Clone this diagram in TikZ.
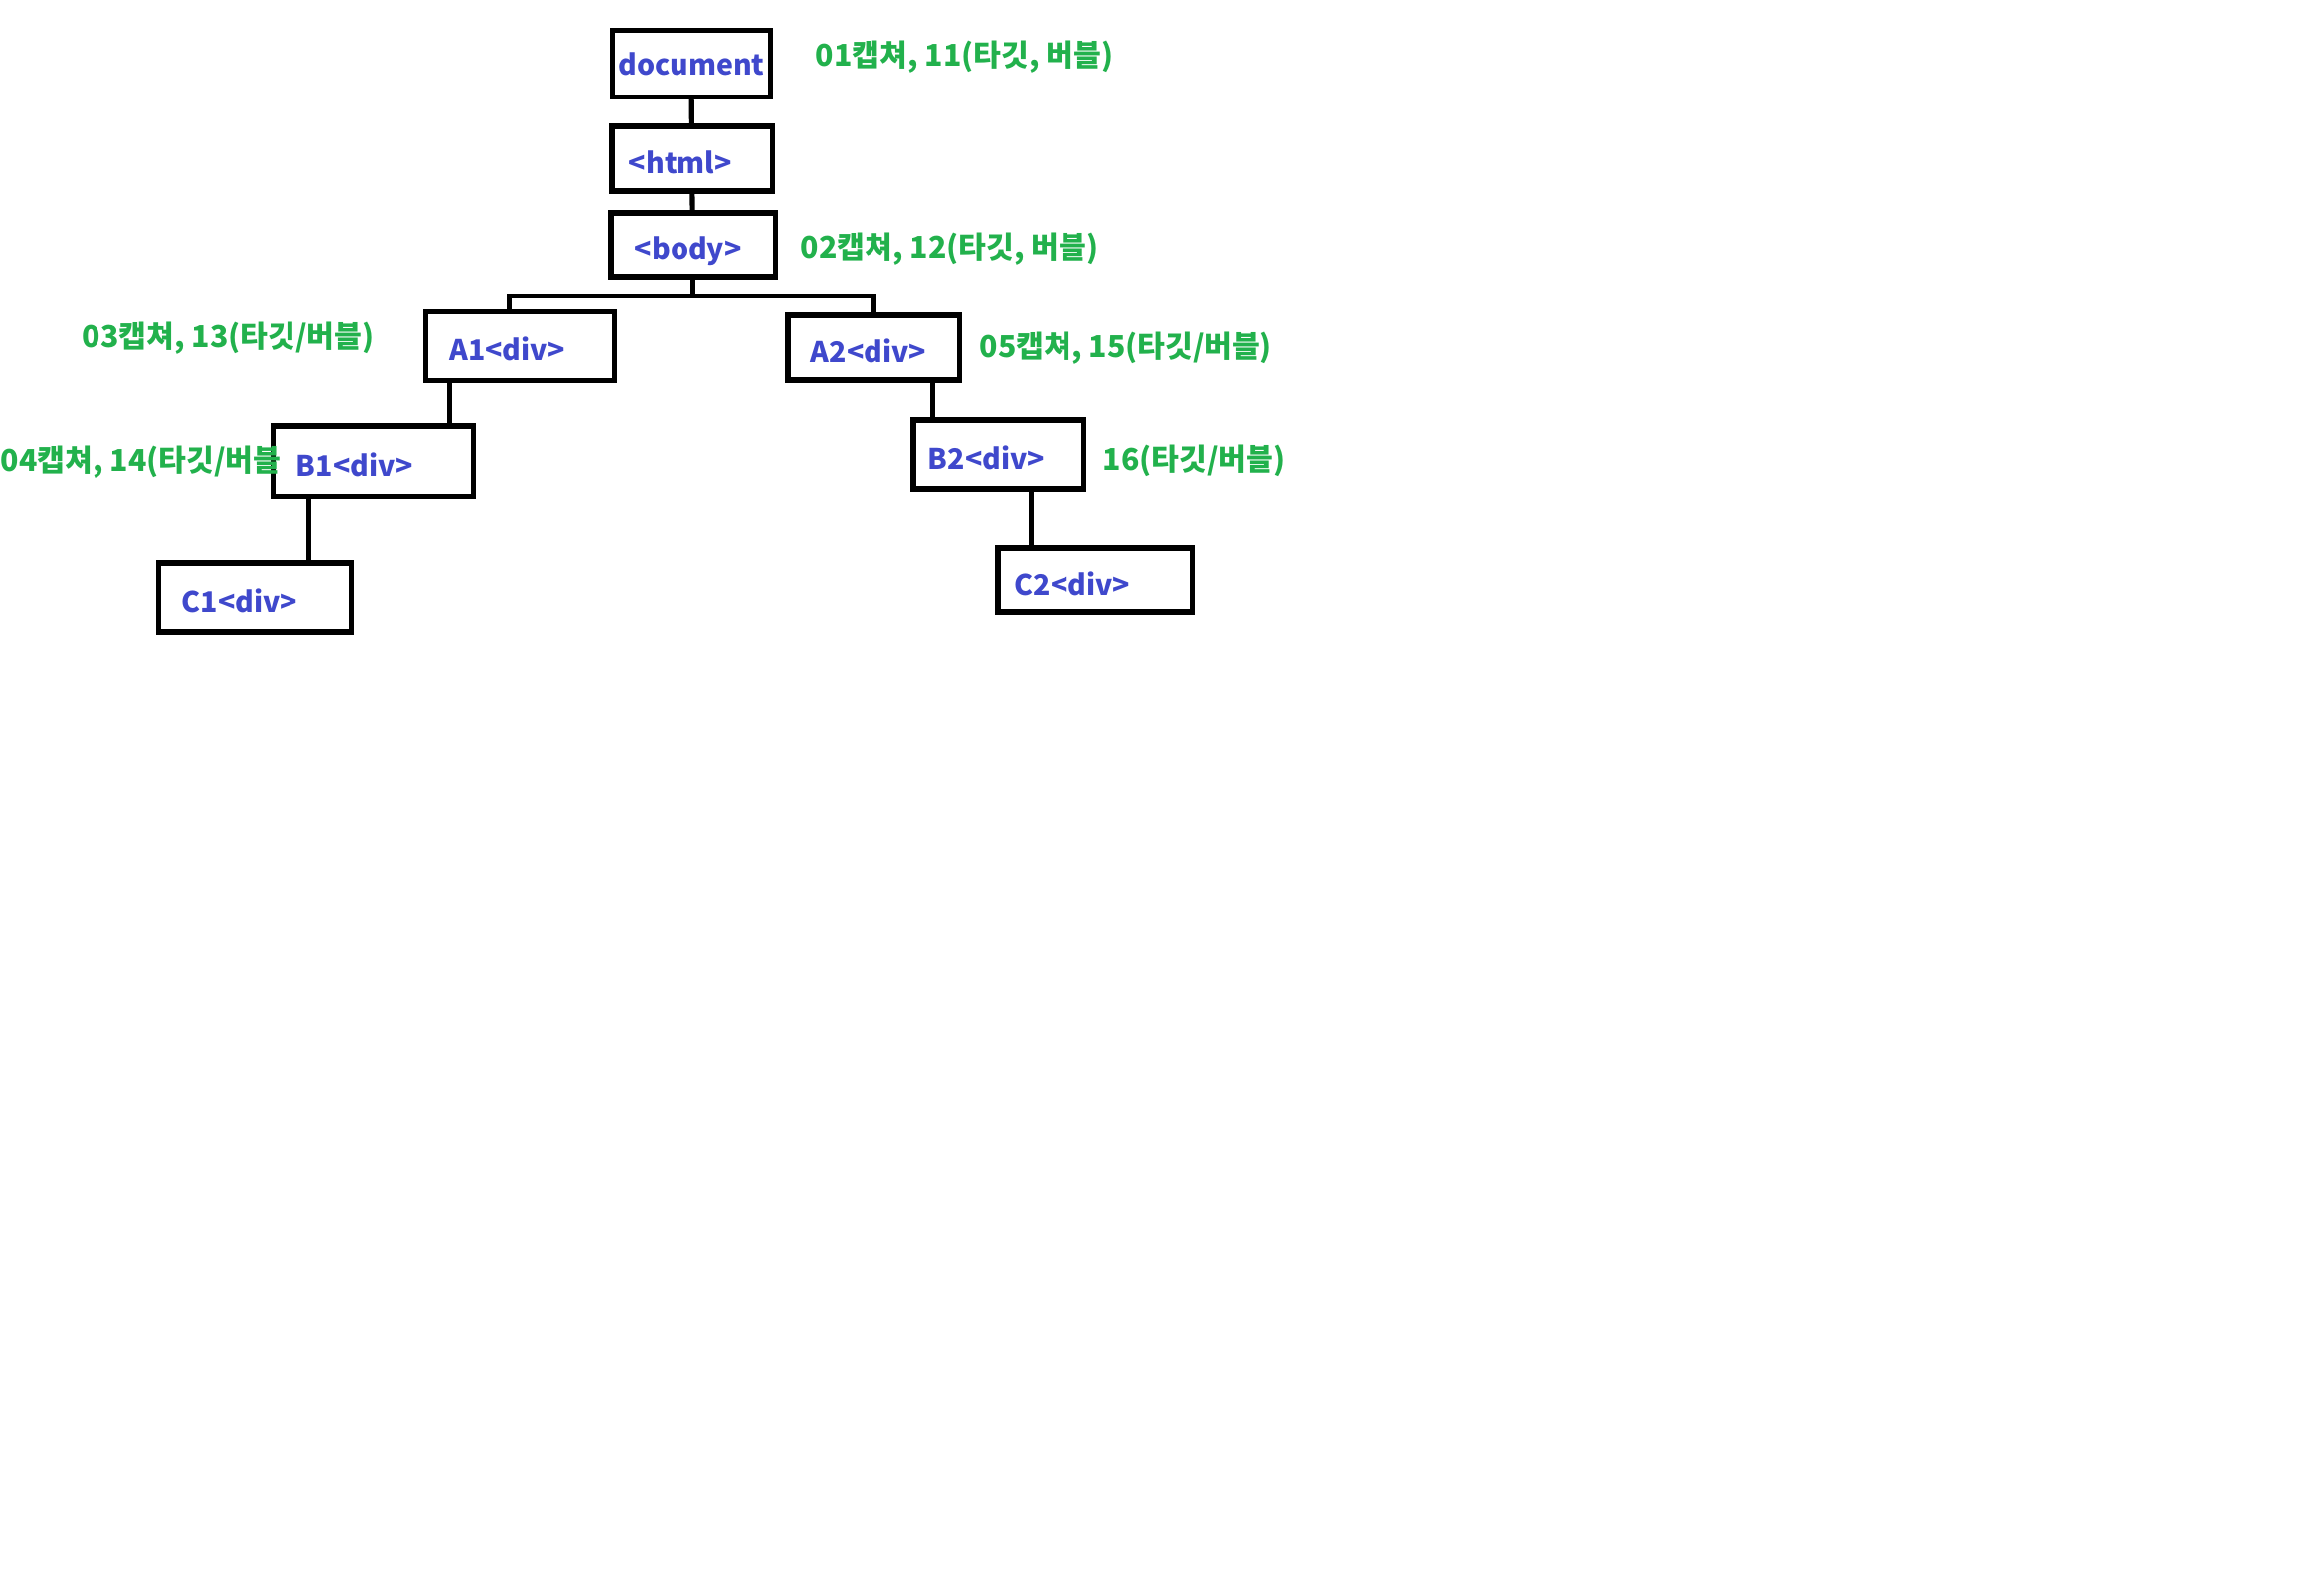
\documentclass[tikz,border=0pt]{standalone}
\usepackage{fontspec}
\setmainfont{Noto Sans CJK KR}
\usetikzlibrary{calc}
\definecolor{boxblue}{RGB}{63,72,204}
\definecolor{labgreen}{RGB}{34,177,76}

\begin{document}
\begin{tikzpicture}[x=0.01cm, y=-0.01cm,
        box/.style = {draw = black, line width = 1.45pt, text = boxblue, align = left,
                      inner ysep = 0pt, text height = 0.3cm, text depth = 0pt,
                      font = {\bfseries\fontsize{8.1pt}{10pt}\selectfont}},
        lab/.style = {text = labgreen, anchor = west, inner sep = 0pt,
                      font = {\bfseries\fontsize{8.6pt}{10pt}\selectfont}},
        link/.style = {draw = black, line width = 1.45pt}]
        \useasboundingbox (0, 0) rectangle (2336, 1595);
        % boxes
        \node[box, align = center, minimum width = 1.59cm, inner xsep = 0pt, minimum height = 0.67cm,
              text height = 0.23cm, text depth = 0pt] (doc) at (695, 64) {document};
        \node[box, text width = 1.27cm, inner xsep = 0.17cm, minimum height = 0.65cm] (html) at (695.5, 159.5) {<html>};
        \node[box, text width = 1.17cm, inner xsep = 0.24cm, minimum height = 0.64cm] (body) at (696.5, 246) {<body>};
        \node[box, text width = 1.41cm, inner xsep = 0.24cm, minimum height = 0.69cm] (a1) at (522.5, 348) {A1<div>};
        \node[box, text width = 1.26cm, inner xsep = 0.23cm, minimum height = 0.65cm] (a2) at (878, 349.5) {A2<div>};
        \node[box, text width = 1.54cm, inner xsep = 0.23cm, minimum height = 0.71cm] (b1) at (375, 463.5) {B1<div>};
        \node[box, text width = 1.41cm, inner xsep = 0.15cm, minimum height = 0.69cm] (b2) at (1003.5, 456.5) {B2<div>};
        \node[box, text width = 1.47cm, inner xsep = 0.23cm, minimum height = 0.69cm] (c1) at (256.5, 600.5) {C1<div>};
        \node[box, text width = 1.61cm, inner xsep = 0.17cm, minimum height = 0.64cm] (c2) at (1100.5, 583) {C2<div>};
        % labels
        \node[lab] (l1) at (819, 57) {01캡쳐, 11(타깃, 버블)};
        \node[lab] (l2) at (804, 250) {02캡쳐, 12(타깃, 버블)};
        \node[lab] (l3) at (82, 340) {03캡쳐, 13(타깃/버블)};
        \node[lab] (l4) at (0, 464) {04캡쳐, 14(타깃/버블};
        \node[lab] (l5) at (984, 350) {05캡쳐, 15(타깃/버블)};
        \node[lab] (l6) at (1108, 463) {16(타깃/버블)};
        % links
        \draw[link] (doc) -- (html);
        \draw[link] (html) -- (body);
        \coordinate (bus) at ($(body.south) + (0, 17)$);
        \coordinate (a1n) at ($(a1.north west) + (87, 0)$);
        \draw[link] (body.south) -- (bus);
        \draw[link] (bus) -| (a1n);
        \draw[link] (bus) -| (a2.north);
        \coordinate (ab1) at ($(a1.south west) + (26, 0)$);
        \draw[link] (ab1) -- (ab1 |- b1.north);
        \coordinate (bc1) at ($(b1.south west) + (38, 0)$);
        \draw[link] (bc1) -- (bc1 |- c1.north);
        \coordinate (ab2) at ($(a2.south west) + (148, 0)$);
        \draw[link] (ab2) -- (ab2 |- b2.north);
        \coordinate (bc2) at ($(b2.south west) + (121, 0)$);
        \draw[link] (bc2) -- (bc2 |- c2.north);
    \end{tikzpicture}
\end{document}
